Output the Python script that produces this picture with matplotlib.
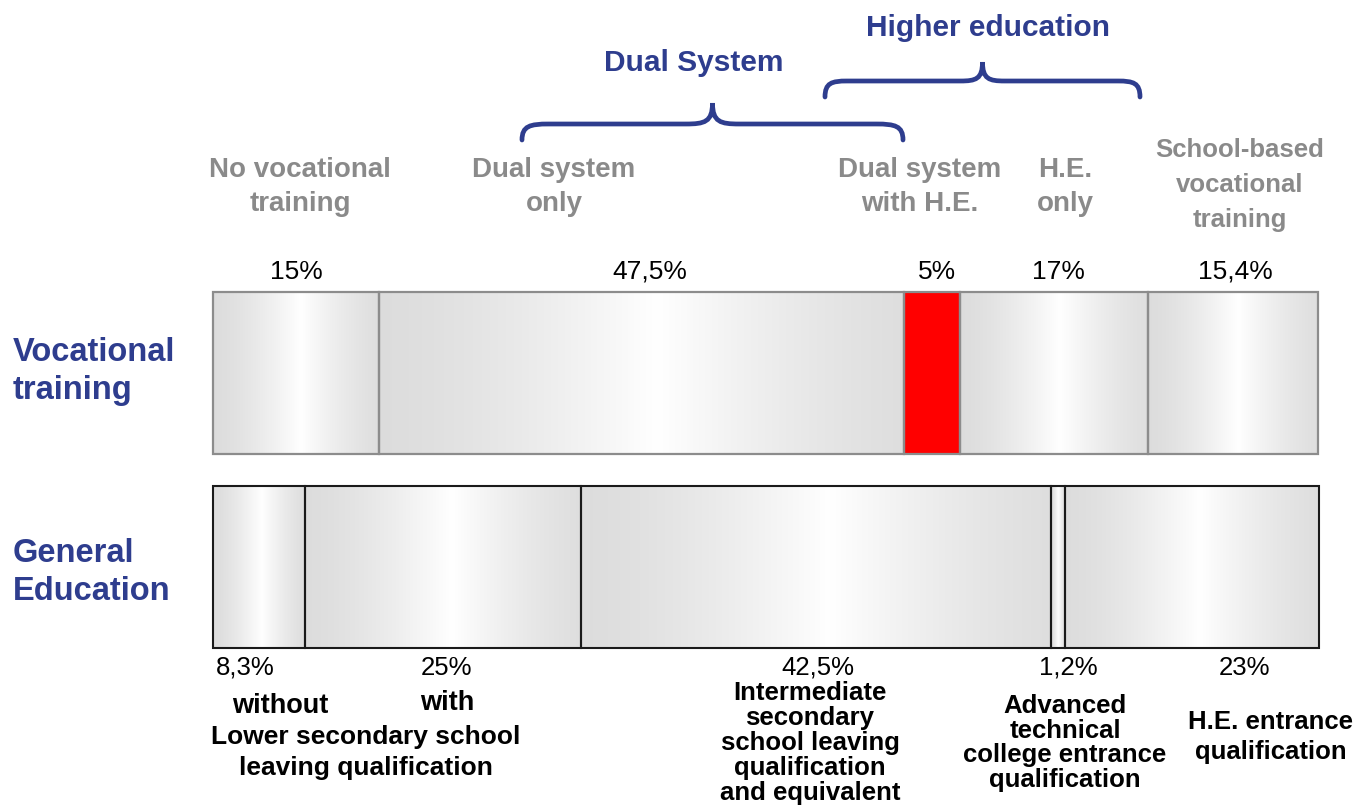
import numpy as np
import matplotlib
matplotlib.use("Agg")
import matplotlib.pyplot as plt
from matplotlib.path import Path
from matplotlib.patches import PathPatch

plt.rcParams['font.family'] = ['Liberation Sans', 'DejaVu Sans']

# shares in percent
voc_values = [15, 47.5, 5, 17, 15.4]
voc_pct = ['15%', '47,5%', '5%', '17%', '15,4%']
voc_labels = ['No vocational\ntraining', 'Dual system\nonly', 'Dual system\nwith H.E.',
              'H.E.\nonly', 'School-based\nvocational\ntraining']

gen_values = [8.3, 25, 42.5, 1.2, 23]
gen_pct = ['8,3%', '25%', '42,5%', '1,2%', '23%']

BLUE = '#2E3D8E'
GREY = '#8A8A8A'

fig = plt.figure(figsize=(13.58, 8.07), dpi=100)
ax = fig.add_axes([0, 0, 1, 1])

# x axis in percent of the bar, y in pixels from the top
px = 11.06
x_left = -213 / px
x_right = (1358 - 213) / px

def X(p):
    return (p - 213) / px

def silver(ax, x0, w, ytop, ybot):
    t = np.linspace(0, 1, 200)
    v = 0.865 + 0.135 * np.clip(1 - np.abs(t - 0.53) / 0.53, 0, 1) ** 1.4
    img = np.repeat(v[None, :, None], 3, axis=2)
    ax.imshow(img, extent=(x0, x0 + w, ybot, ytop), aspect='auto',
              interpolation='bilinear', zorder=1)

def draw_bar(values, ycen, h, edge, lw, red=None):
    lefts = np.concatenate([[0], np.cumsum(values)[:-1]])
    for i, (l, w) in enumerate(zip(lefts, values)):
        if red == i:
            ax.barh(ycen, w, left=l, height=h, color='#FF0000', edgecolor=edge,
                    linewidth=lw, zorder=2)
        else:
            silver(ax, l, w, ycen - h / 2, ycen + h / 2)
            ax.barh(ycen, w, left=l, height=h, color='none', edgecolor=edge,
                    linewidth=lw, zorder=3)
    return lefts

draw_bar(voc_values, 373, 162, '#8C8C8C', 1.6, red=2)
draw_bar(gen_values, 567, 162, '#1A1A1A', 1.5)

# labels above the vocational bar
voc_lab_x = [300, 554, 920, 1065, 1240]
voc_lab_y = [187, 187, 187, 187, 185]
voc_lab_size = [20, 20, 20, 20, 18.5]
for txt, xp, yp, fs in zip(voc_labels, voc_lab_x, voc_lab_y, voc_lab_size):
    ax.text(X(xp), yp, txt, ha='center', va='center', color=GREY,
            fontsize=fs, fontweight='bold', linespacing=1.38 if fs == 20 else 1.56)

voc_pct_x = [296, 650, 937, 1058, 1235]
for txt, xp in zip(voc_pct, voc_pct_x):
    ax.text(X(xp), 272, txt, ha='center', va='center', color='black', fontsize=19)

gen_pct_x = [245, 447, 818, 1068, 1245]
for txt, xp in zip(gen_pct, gen_pct_x):
    ax.text(X(xp), 668, txt, ha='center', va='center', color='black', fontsize=18.5)

# descriptions under the general education bar
bold = dict(ha='center', va='center', color='black', fontweight='bold')
ax.text(X(280), 706, 'without', fontsize=19.5, **bold)
ax.text(X(447), 703, 'with', fontsize=19.5, **bold)
ax.text(X(366), 752.5, 'Lower secondary school\nleaving qualification', fontsize=19,
        linespacing=1.42, **bold)
ax.text(X(810), 743, 'Intermediate\nsecondary\nschool leaving\nqualification\nand equivalent',
        fontsize=18.5, linespacing=1.06, **bold)
ax.text(X(1065), 743, 'Advanced\ntechnical\ncollege entrance\nqualification',
        fontsize=18.5, linespacing=1.05, **bold)
ax.text(X(1271), 737, 'H.E. entrance\nqualification', fontsize=18.5, linespacing=1.33, **bold)

# row titles
ax.text(X(13), 371.5, 'Vocational\ntraining', ha='left', va='center', color=BLUE,
        fontsize=23.5, fontweight='bold', linespacing=1.26)
ax.text(X(13), 572.5, 'General\nEducation', ha='left', va='center', color=BLUE,
        fontsize=23.5, fontweight='bold', linespacing=1.28)

def brace(x0, x1, y_tip, y_mid, y_peak):
    xc = (x0 + x1) / 2
    r = (x1 - x0) * 0.07
    verts = [(x0, y_tip),
             (x0, y_mid + 2), (x0 + r * 0.3, y_mid), (x0 + r, y_mid),
             (xc - r, y_mid),
             (xc - r * 0.3, y_mid), (xc, y_mid - 2), (xc, y_peak),
             (xc, y_mid - 2), (xc + r * 0.3, y_mid), (xc + r, y_mid),
             (x1 - r, y_mid),
             (x1 - r * 0.3, y_mid), (x1, y_mid + 2), (x1, y_tip)]
    codes = [Path.MOVETO, Path.CURVE4, Path.CURVE4, Path.CURVE4, Path.LINETO,
             Path.CURVE4, Path.CURVE4, Path.CURVE4, Path.CURVE4, Path.CURVE4, Path.CURVE4,
             Path.LINETO, Path.CURVE4, Path.CURVE4, Path.CURVE4]
    ax.add_patch(PathPatch(Path(verts, codes), fill=False, edgecolor=BLUE, lw=3.4,
                           capstyle='round', zorder=4))

brace(X(522), X(903), 140, 124, 103)
brace(X(825), X(1140), 97, 81, 62)
ax.text(X(694), 63, 'Dual System', ha='center', va='center', color=BLUE,
        fontsize=21.5, fontweight='bold')
ax.text(X(988), 28, 'Higher education', ha='center', va='center', color=BLUE,
        fontsize=21.5, fontweight='bold')

ax.set_xlim(x_left, x_right)
ax.set_ylim(807, 0)
ax.axis('off')

fig.savefig('out.png', dpi=100, facecolor='white')
